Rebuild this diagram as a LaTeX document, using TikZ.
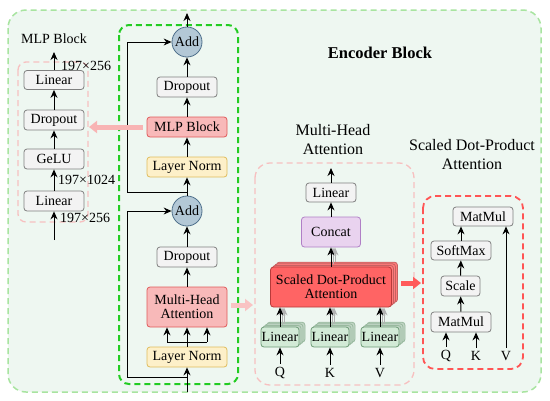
\documentclass[tikz,border=0pt]{standalone}
\usepackage{fontspec}
\setmainfont{Liberation Serif}
\usetikzlibrary{arrows.meta,calc}
\definecolor{outerfill}{HTML}{EEF7F1}
\definecolor{outerline}{HTML}{A8E4A0}
\definecolor{innergreen}{HTML}{22CC22}
\definecolor{pinkdash}{HTML}{F7C0C0}
\definecolor{reddash}{HTML}{FF5555}
\definecolor{grayfill}{HTML}{F3F3F3}
\definecolor{grayline}{HTML}{7F7F7F}
\definecolor{pinkfill}{HTML}{F8B9B9}
\definecolor{pinkline}{HTML}{E05A5A}
\definecolor{yelfill}{HTML}{FDF0C9}
\definecolor{yelline}{HTML}{E0BC5C}
\definecolor{addfill}{HTML}{B3C8D6}
\definecolor{addline}{HTML}{4F708C}
\definecolor{purfill}{HTML}{E9D3EF}
\definecolor{purline}{HTML}{B07FC6}
\definecolor{redfill}{HTML}{FF6464}
\definecolor{redline}{HTML}{B83A3A}
\definecolor{grnfill}{HTML}{D2EAD6}
\definecolor{grnline}{HTML}{6E9C76}
\definecolor{pinkarrow}{HTML}{F8B4B4}
\definecolor{redarrow}{HTML}{FF5A5A}
\tikzset{
  txt/.style={font=\fontsize{14}{16}\selectfont},
  ttl/.style={font=\fontsize{16}{19}\selectfont, align=center},
  bx/.style={draw, rounded corners=3pt, line width=0.8pt, inner sep=1pt, txt, minimum height=20pt},
  gbox/.style={bx, fill=grayfill, draw=grayline},
  pbox/.style={bx, fill=pinkfill, draw=pinkline},
  ybox/.style={bx, fill=yelfill, draw=yelline},
  ubox/.style={bx, fill=purfill, draw=purline},
  rbox/.style={bx, fill=redfill, draw=redline, align=center},
  rshadow/.style={draw=redline!80, fill=redfill!85!white, rounded corners=3pt, line width=0.8pt, minimum width=121pt, minimum height=40pt, inner sep=0pt},
  grbox/.style={bx, fill=grnfill, draw=grnline},
  gshadow/.style={draw=grnline!70, fill=grnfill!80!gray, rounded corners=3pt, line width=0.8pt, minimum width=38pt, minimum height=20pt, inner sep=0pt},
  addc/.style={circle, draw=addline, fill=addfill, line width=0.8pt, minimum size=30pt, inner sep=0pt, txt},
  arr/.style={-{Stealth[length=8pt,width=7pt]}, line width=1pt, black},
  sarr/.style={-{Stealth[length=8pt,width=7pt]}, line width=1pt, gray!60},
  ln/.style={line width=1pt, black},
  fat/.style={line width=5pt, -{Triangle[length=8pt,width=12pt]}},
}
\begin{document}
\begin{tikzpicture}[x=1pt,y=-1pt]
\useasboundingbox (0,0) rectangle (550,400);
% outer encoder block
\draw[fill=outerfill, draw=outerline, line width=1.5pt, dash pattern=on 6pt off 4pt, rounded corners=18pt] (8,10) rectangle (541,392);
\node[font=\bfseries\fontsize{16.5}{19}\selectfont] (enc) at (380,53) {Encoder Block};
% inner green box
\draw[draw=innergreen, line width=2pt, dash pattern=on 6pt off 4pt, rounded corners=10pt] (119,25) rectangle (238,384);

% main column
\node[addc] (add1) at (187,42) {Add};
\node[gbox, minimum width=60pt] (dr1) at (187,87) {Dropout};
\node[pbox, minimum width=80pt] (mlp) at (187,127) {MLP Block};
\node[ybox, minimum width=80pt] (ln1) at (187,167) {Layer Norm};
\node[addc] (add2) at (187,211) {Add};
\node[gbox, minimum width=60pt] (dr2) at (187,257) {Dropout};
\node[pbox, minimum width=80pt, minimum height=40pt, align=center] (mha) at (187,307) {Multi-Head\\[-2pt]Attention};
\node[ybox, minimum width=80pt] (ln2) at (187,357) {Layer Norm};
\coordinate (top) at (187,13);
\coordinate (b1) at (187,192);
\coordinate (s1) at (127,192);
\coordinate (s1t) at (127,42);
\coordinate (bot) at (187,392);
\coordinate (b2) at (187,377);
\coordinate (s2) at (127,377);
\coordinate (s2t) at (127,211);
\coordinate (fork) at (187,342);
\coordinate (forkl) at (167,342);
\coordinate (forkr) at (207,342);

\draw[arr] (add1) -- (top);
\draw[arr] (dr1) -- (add1);
\draw[arr] (mlp) -- (dr1);
\draw[arr] (ln1) -- (mlp);
\draw[arr] (add2) -- (ln1);
\draw[arr] (b1) -- (s1) -- (s1t) -- (add1);
\draw[arr] (dr2) -- (add2);
\draw[arr] (mha) -- (dr2);
\draw[ln] (ln2) -- (fork);
\draw[ln] (forkl) -- (forkr);
\draw[arr] (forkl) -- (forkl |- mha.south);
\draw[arr] (fork) -- (mha.south);
\draw[arr] (forkr) -- (forkr |- mha.south);
\draw[arr] (bot) -- (ln2);
\draw[arr] (b2) -- (s2) -- (s2t) -- (add2);

% MLP block detail
\draw[draw=pinkdash, line width=1.3pt, dash pattern=on 6pt off 4pt, rounded corners=8pt] (18,62) rectangle (88,222);
\node[txt] (mlpt) at (54,39) {MLP Block};
\node[gbox, minimum width=60pt] (la) at (54,201) {Linear};
\node[gbox, minimum width=60pt] (ge) at (54,159) {GeLU};
\node[gbox, minimum width=60pt] (dd) at (54,120) {Dropout};
\node[gbox, minimum width=60pt, minimum height=19pt] (lb) at (54,80) {Linear};
\coordinate (min) at (54,240);
\coordinate (mout) at (54,52);
\draw[arr] (min) -- (la);
\draw[arr] (la) -- (ge);
\draw[arr] (ge) -- (dd);
\draw[arr] (dd) -- (lb);
\draw[arr] (lb) -- (mout);
\node[txt, anchor=west, inner sep=0pt] (d1) at (61,66) {197×256};
\node[txt, anchor=west, inner sep=0pt] (d2) at (58,180) {197×1024};
\node[txt, anchor=west, inner sep=0pt] (d3) at (60,218) {197×256};
\coordinate (mlpbox) at (89,127);
\draw[fat, pinkarrow, shorten <=4pt] (mlp.west) -- (mlpbox);

% Multi-head attention detail
\node[ttl] (mhat) at (333,140) {Multi-Head\\Attention};
\draw[draw=pinkdash, line width=1.3pt, dash pattern=on 6pt off 4pt, rounded corners=15pt] (255,163) rectangle (414,385);
\node[gbox, minimum width=50pt, minimum height=19pt] (lin) at (331,192.5) {Linear};
\node[ubox, minimum width=59pt, minimum height=30pt] (cat) at (331,232) {Concat};
\foreach \d in {3,2,1} {
  \node[rshadow] (sh\d) at ({331+2*\d},{287-1.6*\d}) {};
}
\node[rbox, minimum width=121pt, minimum height=40pt] (sdpa) at (331,287) {Scaled Dot-Product\\[-2pt]Attention};
\foreach \x/\n in {280/lq,330/lk,380/lv} {
  \foreach \d in {3,2,1} {
    \node[gshadow] (\n s\d) at ({\x+2*\d},{337-1.6*\d}) {};
  }
}
\node[grbox, minimum width=38pt, inner sep=0pt] (lq) at (280,337) {Linear};
\node[grbox, minimum width=38pt, inner sep=0pt] (lk) at (330,337) {Linear};
\node[grbox, minimum width=38pt, inner sep=0pt] (lv) at (380,337) {Linear};
\node[txt] (q) at (280,373) {Q};
\node[txt] (k) at (330,373) {K};
\node[txt] (v) at (380,373) {V};
\draw[arr] (q) -- (lq);
\draw[arr] (k) -- (lk);
\draw[arr] (v) -- (lv);
\foreach \n in {lq,lk,lv} {
  \draw[sarr] ($(\n.north)+(4,-3)$) -- ($(\n.north |- sdpa.south)+(4,0)$);
  \draw[sarr] ($(\n.north)+(2,-1.5)$) -- ($(\n.north |- sdpa.south)+(2,0)$);
  \draw[arr] (\n.north) -- (\n.north |- sdpa.south);
}
\draw[sarr] ($(sdpa.north)+(4,-5)$) -- ($(cat.south)+(4,0)$);
\draw[sarr] ($(sdpa.north)+(2,-3)$) -- ($(cat.south)+(2,0)$);
\draw[arr] (sdpa) -- (cat);
\draw[arr] (cat) -- (lin);
\coordinate (mhout) at (331,168);
\draw[arr] (lin) -- (mhout);
\coordinate (mhbox) at (253,305);
\coordinate (mhstart) at (231,305);
\draw[fat, pinkarrow!80!white] (mhstart) -- (mhbox);

% Scaled dot-product detail
\node[ttl] (sdt) at (472,155) {Scaled Dot-Product\\Attention};
\draw[draw=reddash, line width=1.8pt, dash pattern=on 6pt off 4pt, rounded corners=12pt] (423,196) rectangle (523,369);
\node[gbox, minimum width=60pt, minimum height=19pt] (mm2) at (483,216.5) {MatMul};
\node[gbox, minimum width=60pt, minimum height=19pt] (sm) at (461,250.5) {SoftMax};
\node[gbox, minimum width=39pt] (sc) at (460.5,286) {Scale};
\node[gbox, minimum width=60pt] (mm1) at (461,322) {MatMul};
\node[txt] (q2) at (446,356) {Q};
\node[txt] (k2) at (476,356) {K};
\node[txt] (v2) at (506,356) {V};
\draw[arr] (q2) -- (q2.north |- mm1.south);
\draw[arr] (k2) -- (k2.north |- mm1.south);
\draw[arr] (v2) -- (v2.north |- mm2.south);
\draw[arr] (mm1) -- (sc);
\draw[arr] (sc) -- (sm);
\draw[arr] (sm.north) -- (sm.north |- mm2.south);
\coordinate (rstart) at (401,283);
\coordinate (rend) at (421,283);
\draw[fat, redarrow] (rstart) -- (rend);
\end{tikzpicture}
\end{document}
